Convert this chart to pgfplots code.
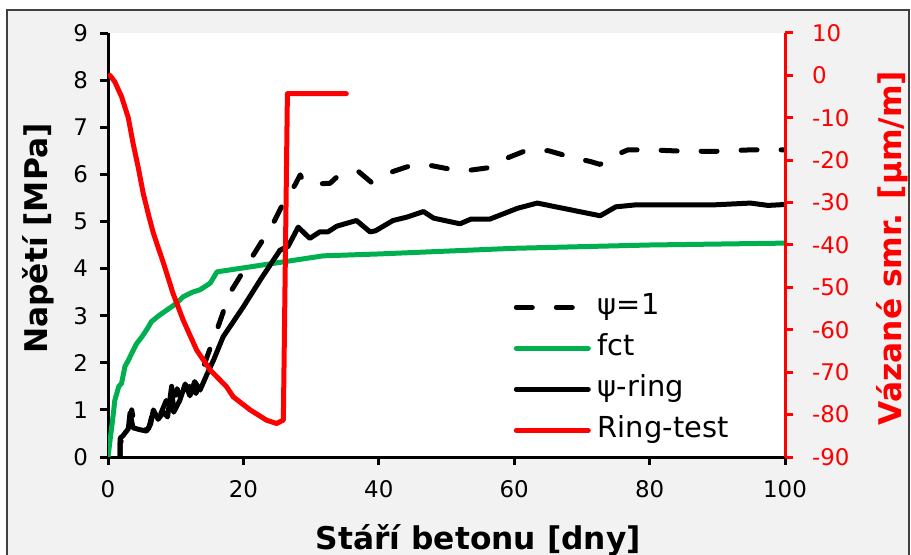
\documentclass[border=0pt]{standalone}
\usepackage{fontspec}
\setmainfont{DejaVu Sans}
\usepackage{pgfplots}
\pgfplotsset{compat=1.18}
\definecolor{bggray}{HTML}{F2F2F2}
\definecolor{framegray}{HTML}{404040}
\definecolor{xlgreen}{HTML}{00B050}
\definecolor{xlred}{HTML}{FF0000}
\newcommand{\ticksize}{\fontsize{11.5}{13}\selectfont}
\newcommand{\labsize}{\bfseries\fontsize{15.7}{18}\selectfont}
\newcommand{\legsize}{\fontsize{14.5}{16}\selectfont}
\begin{document}
\begin{tikzpicture}
\useasboundingbox (0,0) rectangle (455.5bp,277.5bp);
\fill[white] (0,0) rectangle (455.5bp,277.5bp);
\filldraw[fill=bggray, draw=framegray, line width=0.6bp] (3.5bp,-5bp) rectangle (454.5bp,272.5bp);
\begin{axis}[
  at={(54bp,49bp)}, anchor=south west, scale only axis,
  width=338.5bp, height=212bp,
  xmin=0, xmax=100, ymin=0, ymax=9,
  axis x line*=bottom, axis y line*=left,
  axis line style={line width=1.5bp, black, -},
  xtick={0,20,...,100}, ytick={0,1,...,9},
  tick align=outside, major tick length=4bp,
  tick style={line width=1.5bp, black},
  ticklabel style={font=\ticksize},
  xticklabel style={yshift=-4bp},
  yticklabel style={xshift=-2.5bp},
  /pgf/number format/assume math mode=true,
  axis background/.style={fill=white},
  xlabel={Stáří betonu [dny]},
  xlabel style={font=\labsize, at={(axis description cs:0.547,-0.219)}, anchor=base},
  ylabel={Napětí [MPa]},
  ylabel style={font=\labsize, at={(axis description cs:-0.1034,0.515)}, anchor=center, rotate=0},
  every axis plot/.append style={line width=2.5bp, line join=round},
]
\addplot[black, line cap=round, dash pattern=on 8bp off 12bp] coordinates {
(1.8,0) (1.8,0.3) (2.5,0.45) (3.1,0.55) (3.5,1.0) (4.0,0.6) (5.0,0.55) (6.0,0.6) (6.8,1.05) (7.6,0.85) (8.6,1.2) (9.3,1.0) (10.2,1.45) (11.0,1.15) (12.0,1.5) (13.0,1.35) (14.1,1.92) (16.1,2.70) (18.0,3.48) (21.0,4.18) (24.4,4.96) (25.9,5.39) (27.6,5.77) (28.4,5.99) (28.8,5.85) (31.3,5.80) (32.8,5.81) (34.0,5.97) (37.0,6.06) (38.9,5.83) (42.1,6.06) (44.6,6.18) (47.6,6.19) (50.5,6.11) (53.6,6.09) (56.7,6.15) (59.2,6.36) (62.0,6.52) (65.1,6.50) (68.0,6.38) (71.3,6.27) (72.7,6.21) (73.7,6.33) (76.8,6.52) (80,6.52) (85,6.49) (90,6.49) (95,6.52) (100,6.52)
};
\addplot[xlgreen] coordinates {
(0,0) (0.3,0.35) (0.8,0.93) (1.0,1.2) (1.3,1.35) (1.6,1.5) (2.0,1.56) (2.5,1.92) (3.0,2.05) (3.5,2.2) (4.2,2.4) (5.0,2.55) (5.8,2.72) (6.4,2.87) (7.5,3.0) (8.7,3.12) (10.0,3.25) (11.1,3.40) (12.5,3.5) (13.6,3.55) (15.1,3.69) (16.1,3.93) (31.8,4.27) (40,4.31) (60,4.43) (80,4.50) (100,4.54)
};
\addplot[black] coordinates {
(1.8,0) (1.8,0.4) (2.2,0.45) (3.0,0.6) (3.25,0.93) (3.7,0.62) (4.7,0.58) (5.7,0.55) (6.3,0.7) (6.7,1.0) (7.4,0.8) (8.2,0.95) (8.8,0.85) (9.4,1.5) (9.7,0.95) (10.6,1.2) (11.4,1.55) (12.1,1.3) (12.8,1.6) (13.6,1.42) (14.6,1.75) (15.6,2.06) (17.0,2.55) (20.0,3.19) (22.5,3.76) (25.4,4.39) (26.6,4.47) (28.1,4.88) (29.8,4.64) (31.3,4.78) (32.5,4.78) (33.8,4.90) (36.7,5.02) (38.7,4.78) (39.5,4.80) (42.1,5.02) (44.1,5.09) (46.6,5.21) (48.1,5.07) (52.0,4.95) (53.6,5.05) (56.4,5.05) (60.5,5.28) (63.4,5.39) (72.7,5.12) (75.0,5.31) (77.8,5.35) (89.2,5.35) (94.9,5.39) (97.5,5.34) (100,5.36)
};
\end{axis}
\begin{axis}[
  at={(54bp,49bp)}, anchor=south west, scale only axis,
  width=338.5bp, height=212bp,
  xmin=0, xmax=100, ymin=-90, ymax=10,
  axis x line=none, axis y line*=right,
  y axis line style={line width=1.5bp, xlred, -},
  ytick={-90,-80,...,10},
  tick align=outside, major tick length=4bp,
  ytick style={line width=1.5bp, xlred},
  yticklabel style={font=\ticksize, text=xlred, xshift=6bp},
  /pgf/number format/assume math mode=true,
  ylabel={Vázané smr. [µm/m]},
  ylabel style={font=\labsize, text=xlred, at={(axis description cs:1.158,0.493)}, anchor=center, rotate=0},
  every axis plot/.append style={line width=2.5bp, line join=round},
  legend image code/.code={\draw[#1] (0bp,0bp) -- (36bp,0bp);},
  legend cell align=left,
  legend style={draw=none, fill=none, font=\legsize, at={(axis description cs:0.59,0.40)}, anchor=north west,
    row sep=5bp, column sep=2.5bp,
    nodes={inner sep=1bp, text height=10.5bp, text depth=3bp}},
]
\addlegendimage{black, line width=2.5bp, line cap=round, dash pattern=on 8bp off 12bp}
\addlegendentry{ψ=1}
\addlegendimage{xlgreen, line width=2.5bp, line cap=round}
\addlegendentry{fct}
\addlegendimage{black, line width=2.5bp, line cap=round}
\addlegendentry{ψ-ring}
\addplot[xlred, line cap=round] coordinates {
(0.3,0) (1.0,-1.5) (2.0,-5) (3.0,-10) (3.7,-16) (4.5,-22) (5.2,-27.8) (6.0,-33) (6.7,-37.2) (7.5,-41) (8.2,-44.3) (9.6,-51.4) (11.1,-57.7) (13.1,-64.8) (15.1,-69.5) (17.5,-73.4) (18.5,-75.8) (21.0,-78.9) (23.4,-81.3) (24.9,-82.1) (25.9,-81.3) (26.5,-4.3) (35.2,-4.3)
};
\addlegendentry{Ring-test}
\end{axis}
\end{tikzpicture}
\end{document}
